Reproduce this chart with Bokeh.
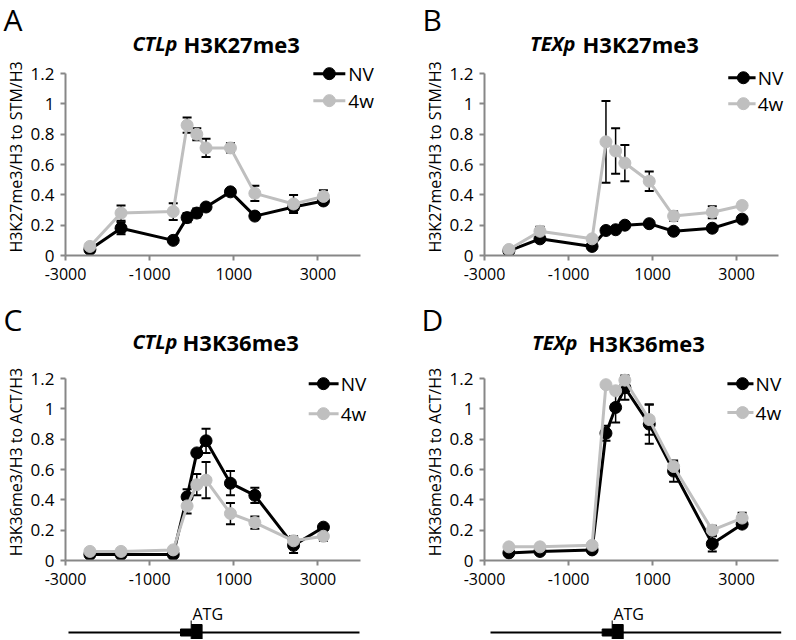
from math import pi
from bokeh.plotting import figure
from bokeh.layouts import column, row
from bokeh.models import Range1d, FixedTicker, CustomJSTickFormatter, Label
from bokeh.embed import file_html
from bokeh.resources import INLINE

# ---------------- data ----------------
positions = [-2420, -1680, -440, -110, 120, 340, 920, 1500, 2420, 3130]
x_ticks = [-3000, -1000, 1000, 3000]
y_ticks = [0, 0.2, 0.4, 0.6, 0.8, 1, 1.2]
series_names = ["NV", "4w"]

ctl_k27_nv = [0.04, 0.18, 0.10, 0.25, 0.28, 0.32, 0.42, 0.26, 0.32, 0.36]
ctl_k27_nv_err = [0.01, 0.04, 0.01, 0.03, 0.03, 0.02, 0.02, 0.01, 0.02, 0.01]
ctl_k27_4w = [0.06, 0.28, 0.29, 0.86, 0.80, 0.71, 0.71, 0.41, 0.34, 0.39]
ctl_k27_4w_err = [0.01, 0.05, 0.055, 0.05, 0.04, 0.06, 0.03, 0.05, 0.06, 0.04]

tex_k27_nv = [0.03, 0.11, 0.06, 0.165, 0.17, 0.20, 0.21, 0.16, 0.18, 0.24]
tex_k27_nv_err = [0.01, 0.02, 0.01, 0.01, 0.01, 0.01, 0.01, 0.01, 0.01, 0.01]
tex_k27_4w = [0.04, 0.16, 0.11, 0.75, 0.69, 0.61, 0.49, 0.26, 0.285, 0.33]
tex_k27_4w_err = [0.01, 0.03, 0.01, 0.27, 0.15, 0.12, 0.065, 0.03, 0.04, 0.01]

ctl_k36_nv = [0.04, 0.04, 0.04, 0.42, 0.71, 0.79, 0.51, 0.43, 0.10, 0.22]
ctl_k36_nv_err = [0.01, 0.01, 0.01, 0.05, 0.02, 0.08, 0.08, 0.05, 0.05, 0.02]
ctl_k36_4w = [0.06, 0.06, 0.07, 0.36, 0.50, 0.53, 0.31, 0.25, 0.13, 0.16]
ctl_k36_4w_err = [0.01, 0.01, 0.01, 0.05, 0.07, 0.12, 0.07, 0.04, 0.03, 0.03]

tex_k36_nv = [0.05, 0.06, 0.07, 0.84, 1.01, 1.14, 0.90, 0.59, 0.11, 0.24]
tex_k36_nv_err = [0.01, 0.01, 0.01, 0.05, 0.10, 0.08, 0.13, 0.07, 0.05, 0.02]
tex_k36_4w = [0.09, 0.09, 0.10, 1.16, 1.12, 1.19, 0.93, 0.62, 0.20, 0.28]
tex_k36_4w_err = [0.01, 0.01, 0.01, 0.01, 0.02, 0.02, 0.10, 0.03, 0.03, 0.035]

# gene schematics (bp relative to ATG)
ctl_gene = dict(start=-2929, end=3987, utr=-267, atg=-13, cds_end=246)
tex_gene = dict(start=-2857, end=4060, utr=-200, atg=38, cds_end=300)

# ---------------- style ----------------
FONT = "Open Sans"
BLACK = "#000000"
GRAY = "#bfbfbf"
AXIS = "#878787"
FRAME_H = 197
Y_TOP = 1.3


def make_panel(ylab, nv, nv_err, w4, w4_err, g):
    p = figure(frame_width=g["fw"], frame_height=FRAME_H,
               x_range=Range1d(-3000, g["xmax"]), y_range=Range1d(0, Y_TOP),
               min_border_left=g["bl"], min_border_right=g["br"],
               min_border_top=0, min_border_bottom=g["bb"],
               output_backend="svg", toolbar_location=None)
    p.outline_line_color = None
    p.xgrid.visible = False
    p.ygrid.visible = False
    p.xaxis.ticker = FixedTicker(ticks=x_ticks)
    p.yaxis.ticker = FixedTicker(ticks=y_ticks)
    p.axis.formatter = CustomJSTickFormatter(code="return tick.toString();")
    p.xaxis.bounds = (-3000, 4000)
    p.yaxis.bounds = (0, 1.2)
    for ax in p.axis:
        ax.axis_line_color = AXIS
        ax.axis_line_width = 2
        ax.major_tick_line_color = AXIS
        ax.major_tick_line_width = 2
        ax.major_tick_out = 5
        ax.major_tick_in = 0
        ax.minor_tick_line_color = None
        ax.major_label_text_font = FONT
        ax.major_label_text_color = BLACK
    p.xaxis.major_label_text_font_size = "16px"
    p.yaxis.major_label_text_font_size = "17px"
    p.xaxis.major_label_standoff = 7
    p.yaxis.major_label_standoff = 6
    p.yaxis.axis_label = ylab
    p.yaxis.axis_label_text_font = FONT
    p.yaxis.axis_label_text_font_size = "16px"
    p.yaxis.axis_label_text_font_style = "normal"
    p.yaxis.axis_label_text_color = BLACK
    p.yaxis.axis_label_standoff = 1

    for vals, errs, color in [(nv, nv_err, BLACK), (w4, w4_err, GRAY)]:
        lo = [v - e for v, e in zip(vals, errs)]
        hi = [v + e for v, e in zip(vals, errs)]
        p.segment(positions, lo, positions, hi, line_color=BLACK, line_width=1.5)
        p.scatter(positions, hi, marker="dash", size=9, line_color=BLACK, line_width=2)
        p.scatter(positions, lo, marker="dash", size=9, line_color=BLACK, line_width=2)
        p.line(positions, vals, line_color=color, line_width=3)
        p.scatter(positions, vals, size=12, fill_color=color, line_color=color)

    # legend
    x0, x1, xm, xt = g["leg_x"]
    for name, color, ly in zip(series_names, [BLACK, GRAY], g["leg_y"]):
        p.line([x0, x1], [ly, ly], line_color=color, line_width=3)
        p.scatter([xm], [ly], size=12, fill_color=color, line_color=color)
        p.add_layout(Label(x=xt, y=ly, text=name, text_baseline="middle",
                           text_font=FONT, text_font_size="19px", text_color=BLACK))
    return p


def make_header(letter, gene, mark, h):
    w, ht = h["w"], h["h"]
    q = figure(width=w, height=ht, x_range=Range1d(0, w), y_range=Range1d(0, ht),
               x_axis_location=None, y_axis_location=None,
               min_border_left=0, min_border_right=0, min_border_top=0, min_border_bottom=0,
               output_backend="svg", toolbar_location=None)
    q.outline_line_color = None
    for gr in q.grid:
        gr.visible = False
    q.add_layout(Label(x=h["lx"], y=h["ly"], text=letter, text_align="left",
                       text_baseline="middle", text_font=FONT, text_font_size="30px",
                       text_color=BLACK))
    q.add_layout(Label(x=h["g_right"], y=h["ty"], text=gene, text_align="right",
                       text_baseline="middle", text_font=FONT, text_font_size="20px",
                       text_font_style="bold italic", text_color=BLACK))
    q.add_layout(Label(x=h["m_left"], y=h["ty"], text=mark, text_align="left",
                       text_baseline="middle", text_font=FONT, text_font_size="22px",
                       text_font_style="bold", text_color=BLACK))
    return q


def make_gene(x_range, g, gene):
    q = figure(frame_width=g["fw"], frame_height=47, x_range=x_range,
               y_range=Range1d(0, 47), x_axis_location=None, y_axis_location=None,
               min_border_left=g["bl"], min_border_right=g["br"],
               min_border_top=0, min_border_bottom=0,
               output_backend="svg", toolbar_location=None)
    q.outline_line_color = None
    for gr in q.grid:
        gr.visible = False
    q.segment(x0=[gene["start"]], y0=[7], x1=[gene["end"]], y1=[7],
              line_color=BLACK, line_width=2)
    q.quad(left=[gene["utr"]], right=[gene["atg"]], bottom=[3.5], top=[10.5],
           fill_color=BLACK, line_color=BLACK)
    q.quad(left=[gene["atg"]], right=[gene["cds_end"]], bottom=[0], top=[15],
           fill_color=BLACK, line_color=BLACK)
    q.segment(x0=[gene["atg"]], y0=[15], x1=[gene["atg"]], y1=[19],
              line_color=BLACK, line_width=1)
    q.add_layout(Label(x=gene["atg"] + 30, y=26, text="ATG", text_baseline="middle",
                       text_font=FONT, text_font_size="16px", text_color=BLACK))
    return q


geoA = dict(fw=324, xmax=4700, bl=65, br=15, bb=37,
            leg_x=(2890, 3650, 3270, 3720), leg_y=(1.2, 1.022))
geoB = dict(fw=311, xmax=4400, bl=80, br=1, bb=37,
            leg_x=(2800, 3450, 3160, 3500), leg_y=(1.173, 1.002))
geoC = dict(fw=324, xmax=4700, bl=65, br=15, bb=32,
            leg_x=(2780, 3490, 3130, 3540), leg_y=(1.167, 0.969))
geoD = dict(fw=311, xmax=4400, bl=80, br=1, bb=32,
            leg_x=(2780, 3400, 3140, 3450), leg_y=(1.167, 0.976))

hA = dict(w=404, h=58, lx=3, ly=39, g_right=177, m_left=183, ty=15)
hB = dict(w=392, h=58, lx=18, ly=39, g_right=171, m_left=178, ty=15)
hC = dict(w=404, h=71, lx=3, ly=44, g_right=177, m_left=182, ty=22)
hD = dict(w=392, h=71, lx=17, ly=44, g_right=173, m_left=184, ty=21)

pA = make_panel("H3K27me3/H3 to STM/H3", ctl_k27_nv, ctl_k27_nv_err, ctl_k27_4w, ctl_k27_4w_err, geoA)
pB = make_panel("H3K27me3/H3 to STM/H3", tex_k27_nv, tex_k27_nv_err, tex_k27_4w, tex_k27_4w_err, geoB)
pC = make_panel("H3K36me3/H3 to ACT/H3", ctl_k36_nv, ctl_k36_nv_err, ctl_k36_4w, ctl_k36_4w_err, geoC)
pD = make_panel("H3K36me3/H3 to ACT/H3", tex_k36_nv, tex_k36_nv_err, tex_k36_4w, tex_k36_4w_err, geoD)

headA = make_header("A", "CTLp", "H3K27me3", hA)
headB = make_header("B", "TEXp", "H3K27me3", hB)
headC = make_header("C", "CTLp", "H3K36me3", hC)
headD = make_header("D", "TEXp", "H3K36me3", hD)

gC = make_gene(pC.x_range, geoC, ctl_gene)
gD = make_gene(pD.x_range, geoD, tex_gene)

layout = column(row(headA, headB), row(pA, pB), row(headC, headD), row(pC, pD), row(gC, gD))
open("out.html", "w").write(file_html(layout, INLINE))
